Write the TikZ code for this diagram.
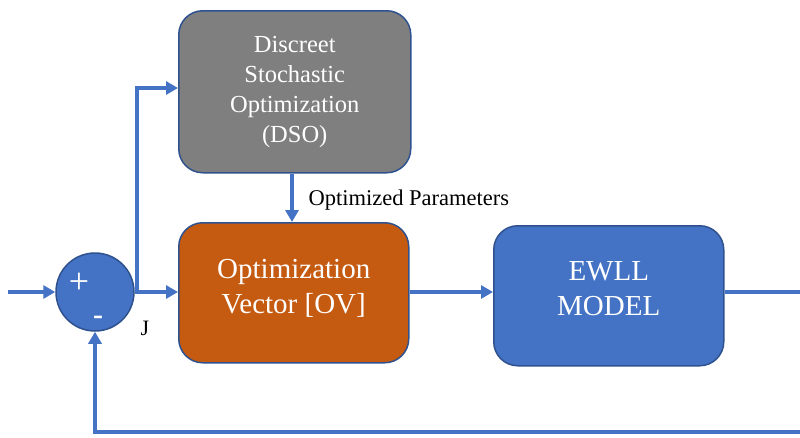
\documentclass[tikz,border=0pt]{standalone}
\usepackage{fontspec}
\setmainfont{Liberation Serif}
\usetikzlibrary{arrows.meta}
\definecolor{flowblue}{HTML}{4472C4}
\definecolor{edgeblue}{HTML}{2F528F}
\definecolor{dsogray}{HTML}{7F7F7F}
\definecolor{ovorange}{HTML}{C55A11}
\begin{document}
\begin{tikzpicture}[x=1pt,y=-1pt,
  block/.style={draw=edgeblue, line width=1.5pt, rounded corners=24pt,
    anchor=north west, inner sep=0pt},
  blocktext/.style={text=white, align=center, inner sep=0pt},
  flow/.style={draw=flowblue, line width=4.5pt, -{Triangle[length=12pt,width=13pt]}}]
\useasboundingbox (0,0) rectangle (800,437);
\fill[white] (0,0) rectangle (800,437);
\clip (0,0) rectangle (800,437);

% blocks
\node[block, fill=dsogray, minimum width=232pt, minimum height=162pt] (dso) at (178,10) {};
\node[block, fill=ovorange, minimum width=230pt, minimum height=140pt] (ov) at (178,222) {};
\node[block, fill=flowblue, minimum width=230pt, minimum height=140pt] (ewll) at (493,225) {};

\node[blocktext, font=\fontsize{24.5}{30}\selectfont] (dsotext) at (dso.center)
  {Discreet\\Stochastic\\Optimization\\(DSO)};
\node[blocktext, font=\fontsize{29}{35}\selectfont] (ovtext) at ([yshift=4pt]ov.center)
  {Optimization\\Vector [OV]};
\node[blocktext, font=\fontsize{29}{35}\selectfont] (ewlltext) at ([yshift=7pt]ewll.center)
  {EWLL\\MODEL};

% summing junction
\node[circle, draw=edgeblue, line width=1.5pt, fill=flowblue,
  minimum size=78pt, inner sep=0pt] (sum) at (95,292) {};
\node[text=white, font=\fontsize{36}{36}\selectfont] (plus) at (79,283) {+};
\node[text=white, font=\fontsize{30}{30}\selectfont\bfseries] (minus) at (98,320) {-};

% signal path
\coordinate (in) at (8,292);
\coordinate (branch) at (137,292);
\coordinate (out) at (812,292);
\coordinate (back) at (812,432);
\draw[flow] (in) -- (sum.west);
\draw[flow] (sum.east) -- (ov.west |- sum.east);
\draw[flow] (branch) |- (dso.west |- 0,88);
\draw[flow] (dso.south -| 292,0) -- (ov.north -| 292,0);
\draw[flow] (ov.east |- 0,292) -- (ewll.west |- 0,292);
\draw[flow] (ewll.east |- 0,292) -- (out) -- (back) -| (sum.south);

% labels
\node[anchor=west, font=\fontsize{22.5}{22.5}\selectfont] (param) at (305,200)
  {Optimized Parameters};
\node[font=\fontsize{22}{22}\selectfont] (jlabel) at (145,328) {J};
\end{tikzpicture}
\end{document}
